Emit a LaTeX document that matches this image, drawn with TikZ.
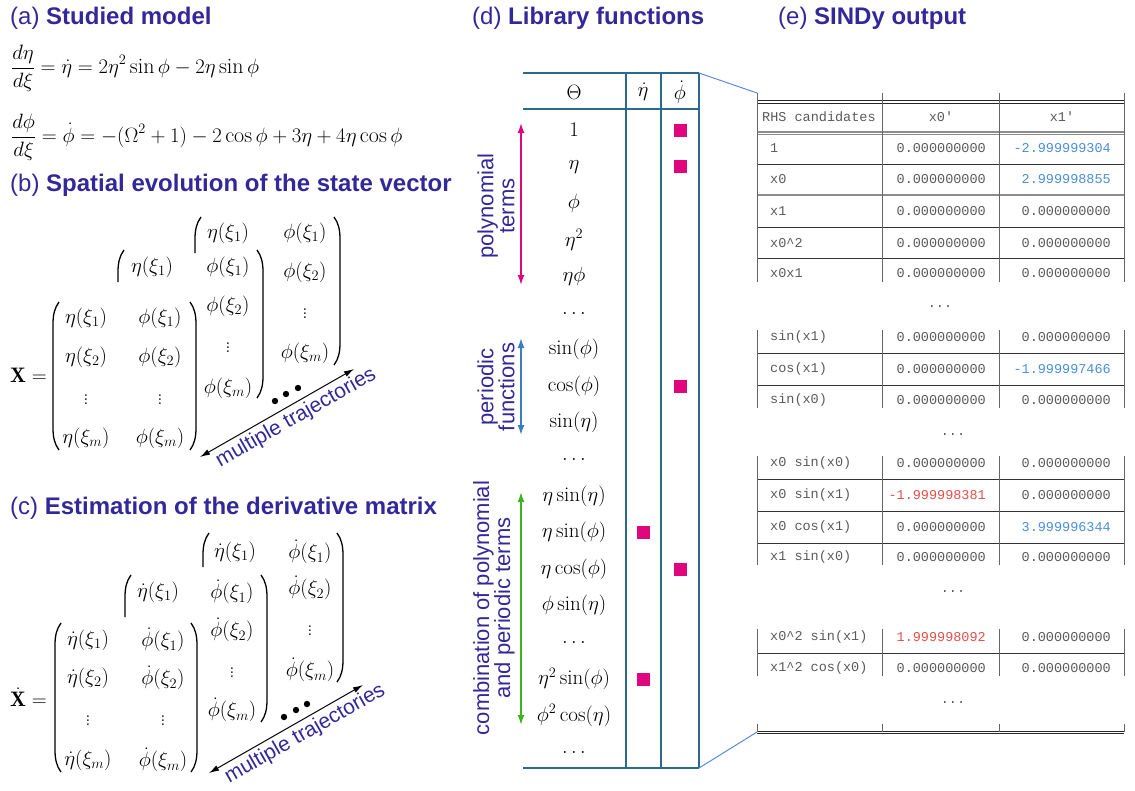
\documentclass[tikz,border=0pt]{standalone}
\usepackage{fontspec}
\setsansfont{Liberation Sans}
\setmonofont{Liberation Mono}
\usetikzlibrary{arrows.meta}

\definecolor{titlecol}{HTML}{33289A}
\definecolor{tabcol}{HTML}{2A6B8C}
\definecolor{hitcol}{HTML}{E0067E}
\definecolor{pericol}{HTML}{3A7EC0}
\definecolor{combcol}{HTML}{3DB51E}
\definecolor{linkcol}{HTML}{5B8BD8}
\definecolor{numcol}{HTML}{5A5A5A}
\definecolor{poscol}{HTML}{4A8FD6}
\definecolor{negcol}{HTML}{E0504A}

\tikzset{
  panel/.style={anchor=west, text=titlecol, inner sep=0pt,
    font=\fontsize{24}{28}\selectfont\sffamily},
  eq/.style={anchor=west, inner sep=0pt, font=\fontsize{22}{26}\selectfont},
  ent/.style={inner sep=0pt, font=\fontsize{21}{25}\selectfont},
  paren/.style={line width=1.3pt},
  traj/.style={line width=1pt,
    {Latex[length=10pt,width=6pt]}-{Latex[length=10pt,width=6pt]}},
  trajlab/.style={pos=0.58, sloped, below, inner sep=3.5pt, text=titlecol,
    font=\fontsize{21}{25}\selectfont\sffamily},
  tab/.style={tabcol, line width=1.1pt},
  fn/.style={inner sep=0pt, font=\fontsize{21}{25}\selectfont},
  hit/.style={fill=hitcol, minimum size=13pt, inner sep=0pt},
  grp/.style={rotate=90, align=center, text=titlecol, inner sep=0pt,
    font=\fontsize{22}{21}\selectfont\sffamily},
  grparr/.style={line width=1.6pt,
    {Latex[length=10pt,width=7pt]}-{Latex[length=10pt,width=7pt]}},
  mono/.style={inner sep=0pt, text=numcol, font=\fontsize{13.5}{16}\selectfont\ttfamily},
  cand/.style={mono, anchor=west},
  num/.style={mono, anchor=east},
  rule/.style={black!80, line width=1pt},
  grayrule/.style={black!45, line width=1.2pt},
  vrule/.style={black!60, line width=1pt},
  link/.style={linkcol, line width=1pt}
}

\begin{document}
\begin{tikzpicture}[x=1pt, y=-1pt]
\useasboundingbox (0,0) rectangle (1135,790);

% (a) model
\node[panel] (ta) at (10,18) {(a) \textbf{Studied model}};
\node[eq] (eq1) at (11,68) {$\displaystyle\frac{d\eta}{d\xi} = \dot\eta = 2\eta^2\sin\phi - 2\eta\sin\phi$};
\node[eq] (eq2) at (11,137) {$\displaystyle\frac{d\phi}{d\xi} = \dot\phi = -(\Omega^2+1) - 2\cos\phi + 3\eta + 4\eta\cos\phi$};

% (b) state vector
\node[panel] (tb) at (10,185) {(b) \textbf{Spatial evolution of the state vector}};
\foreach \n/\x/\y/\t in {b311/228/233/{\eta(\xi_1)}, b312/305/233/{\phi(\xi_1)},
    b322/305/272/{\phi(\xi_2)}, b332/305/311/{\vdots}, b342/305/353/{\phi(\xi_m)},
    b211/152/267/{\eta(\xi_1)}, b212/228/267/{\phi(\xi_1)},
    b222/228/306/{\phi(\xi_2)}, b232/228/345/{\vdots}, b242/228/388/{\phi(\xi_m)},
    b111/86/318/{\eta(\xi_1)}, b112/160/318/{\phi(\xi_1)},
    b121/86/357/{\eta(\xi_2)}, b122/160/357/{\phi(\xi_2)},
    b131/86/397/{\vdots}, b132/160/397/{\vdots},
    b141/86/438/{\eta(\xi_m)}, b142/160/438/{\phi(\xi_m)}}
  \node[ent] (\n) at (\x,\y) {$\t$};
\node[ent, anchor=east] (xb) at (47,375) {$\mathbf{X} =$};

% (c) derivative matrix
\node[panel] (tc) at (10,508) {(c) \textbf{Estimation of the derivative matrix}};
\foreach \n/\x/\y/\t in {c311/235/552/{\dot\eta(\xi_1)}, c312/310/552/{\dot\phi(\xi_1)},
    c322/310/588/{\dot\phi(\xi_2)}, c332/310/628/{\vdots}, c342/310/670/{\dot\phi(\xi_m)},
    c211/158/592/{\dot\eta(\xi_1)}, c212/232/592/{\dot\phi(\xi_1)},
    c222/232/630/{\dot\phi(\xi_2)}, c232/232/670/{\vdots}, c242/232/710/{\dot\phi(\xi_m)},
    c111/88/640/{\dot\eta(\xi_1)}, c112/163/640/{\dot\phi(\xi_1)},
    c121/88/678/{\dot\eta(\xi_2)}, c122/163/678/{\dot\phi(\xi_2)},
    c131/88/718/{\vdots}, c132/163/718/{\vdots},
    c141/88/760/{\dot\eta(\xi_m)}, c142/163/760/{\dot\phi(\xi_m)}}
  \node[ent] (\n) at (\x,\y) {$\t$};
\node[ent, anchor=east] (xc) at (47,697) {$\dot{\mathbf{X}} =$};

% matrix brackets
\foreach \x/\a/\b in {53/302/450, 55/623/772}
  \draw[paren] ({\x+6},\a) .. controls ({\x+1.5},{\a+6}) and (\x,{\a+13}) .. (\x,{\a+22})
    -- (\x,{\b-22}) .. controls (\x,{\b-13}) and ({\x+1.5},{\b-6}) .. ({\x+6},\b);
\foreach \x/\a/\b in {118/250/282, 195/217/253, 125/575/617, 203/533/567}
  \draw[paren] ({\x+6},\a) .. controls ({\x+1.5},{\a+6}) and (\x,{\a+13}) .. (\x,{\a+22})
    -- (\x,\b);
\foreach \x/\a/\b in {196/302/450, 263/250/398, 340/217/365, 197/623/772, 267/575/722, 343/533/682}
  \draw[paren] ({\x-6},\a) .. controls ({\x-1.5},{\a+6}) and (\x,{\a+13}) .. (\x,{\a+22})
    -- (\x,{\b-22}) .. controls (\x,{\b-13}) and ({\x-1.5},{\b-6}) .. ({\x-6},\b);

% more trajectories
\foreach \x/\y in {275/401, 286/394, 298/388, 284/717, 296/710, 307/704}
  \fill (\x,\y) circle (3.2);
\coordinate (tb1) at (200,457);
\coordinate (tb2) at (354,369);
\coordinate (tc1) at (209,773);
\coordinate (tc2) at (363,685);
\draw[traj] (tb1) -- (tb2) node[trajlab] (mtb) {multiple trajectories};
\draw[traj] (tc1) -- (tc2) node[trajlab] (mtc) {multiple trajectories};

% (d) library
\node[panel] (td) at (472,18) {(d) \textbf{Library functions}};
\draw[tab] (523,73) -- (699,73);
\draw[tab] (523,109) -- (699,109);
\draw[tab] (523,768) -- (699,768);
\foreach \x in {626,661,699}
  \draw[tab] (\x,73) -- (\x,768);
\node[fn] (hth) at (574,92) {$\Theta$};
\node[fn] (heta) at (643,92) {$\dot\eta$};
\node[fn] (hphi) at (680,92) {$\dot\phi$};
\foreach \t [count=\i from 0] in {1, \eta, \phi, \eta^2, \eta\phi, \ldots,
    \sin(\phi), \cos(\phi), \sin(\eta), \ldots,
    \eta\sin(\eta), \eta\sin(\phi), \eta\cos(\phi), \phi\sin(\eta), \ldots,
    \eta^2\sin(\phi), \phi^2\cos(\eta), \ldots}
  \node[fn] (th\i) at (574,{130+36.6*\i}) {$\t$};
\foreach \x/\i in {680/0, 680/1, 680/7, 680/12, 643/11, 643/15}
  \node[hit] (hit\i) at (\x,{130+36.6*\i}) {};

% term groups
\coordinate (polyT) at (521,123);
\coordinate (polyB) at (521,285);
\coordinate (periT) at (521,338);
\coordinate (periB) at (521,435);
\coordinate (combT) at (521,492);
\coordinate (combB) at (521,725);
\draw[grparr, hitcol] (polyT) -- (polyB);
\draw[grparr, pericol] (periT) -- (periB);
\draw[grparr, combcol] (combT) -- (combB);
\node[grp] (polylab) at (496,206) {polynomial\\terms};
\node[grp] (perilab) at (496,387) {periodic\\functions};
\node[grp] (comblab) at (494,608) {combination of polynomial\\and periodic terms};

% (e) SINDy
\node[panel] (te) at (778,18) {(e) \textbf{SINDy output}};
\draw[black!85, line width=0.8pt] (757,100) -- (1124,100);
\draw[black!85, line width=0.8pt] (757,103) -- (1124,103);
\draw[grayrule] (757,132) -- (1124,132);
\draw[grayrule] (757,134.5) -- (1124,134.5);
\draw[grayrule] (757,195) -- (1124,195);
\draw[black!85, line width=0.8pt] (757,731) -- (1124,731);
\draw[black!85, line width=0.8pt] (757,733.5) -- (1124,733.5);
\foreach \y in {164,227,258,353,385,479,511,543,653}
  \draw[rule] (757,\y) -- (1124,\y);
\foreach \a/\b in {93/282, 330/408, 456/565, 629/676, 724/732}
  \foreach \x in {757,882,999,1124}
    \draw[vrule] (\x,\a) -- (\x,\b);
\node[cand, anchor=west] (hrhs) at (762,117) {RHS candidates};
\node[mono] (hx0) at (941,117) {x0'};
\node[mono] (hx1) at (1062,117) {x1'};
\foreach \nm/\yy/\va/\vb/\vc in {
    r1/148/1/0.000000000/{\color{poscol}-2.999999304},
    r2/179/x0/0.000000000/{\color{poscol}2.999998855},
    r3/211/x1/0.000000000/0.000000000,
    r4/243/{x0\textasciicircum 2}/0.000000000/0.000000000,
    r5/273/x0x1/0.000000000/0.000000000,
    r6/337/sin(x1)/0.000000000/0.000000000,
    r7/369/cos(x1)/0.000000000/{\color{poscol}-1.999997466},
    r8/400/sin(x0)/0.000000000/0.000000000,
    r9/463/x0 sin(x0)/0.000000000/0.000000000,
    r10/495/x0 sin(x1)/{\color{negcol}-1.999998381}/0.000000000,
    r11/527/x0 cos(x1)/0.000000000/{\color{poscol}3.999996344},
    r12/557/x1 sin(x0)/0.000000000/0.000000000,
    r13/637/{x0\textasciicircum 2 sin(x1)}/{\color{negcol}1.999998092}/0.000000000,
    r14/668/{x1\textasciicircum 2 cos(x0)}/0.000000000/0.000000000} {
  \node[cand] (\nm-a) at (770,\yy) {\va};
  \node[num] (\nm-b) at (986,\yy) {\vb};
  \node[num] (\nm-c) at (1111,\yy) {\vc};
}
\foreach \n/\x/\y in {d1/940/307, d2/953/435, d3/953/592, d4/953/703}
  \node[mono] (\n) at (\x,\y) {...};

% zoom lines
\coordinate (libTR) at (699,73);
\coordinate (libBR) at (699,768);
\coordinate (outTL) at (757,93);
\coordinate (outBL) at (757,732);
\draw[link] (libTR) -- (outTL);
\draw[link] (libBR) -- (outBL);
\end{tikzpicture}
\end{document}
